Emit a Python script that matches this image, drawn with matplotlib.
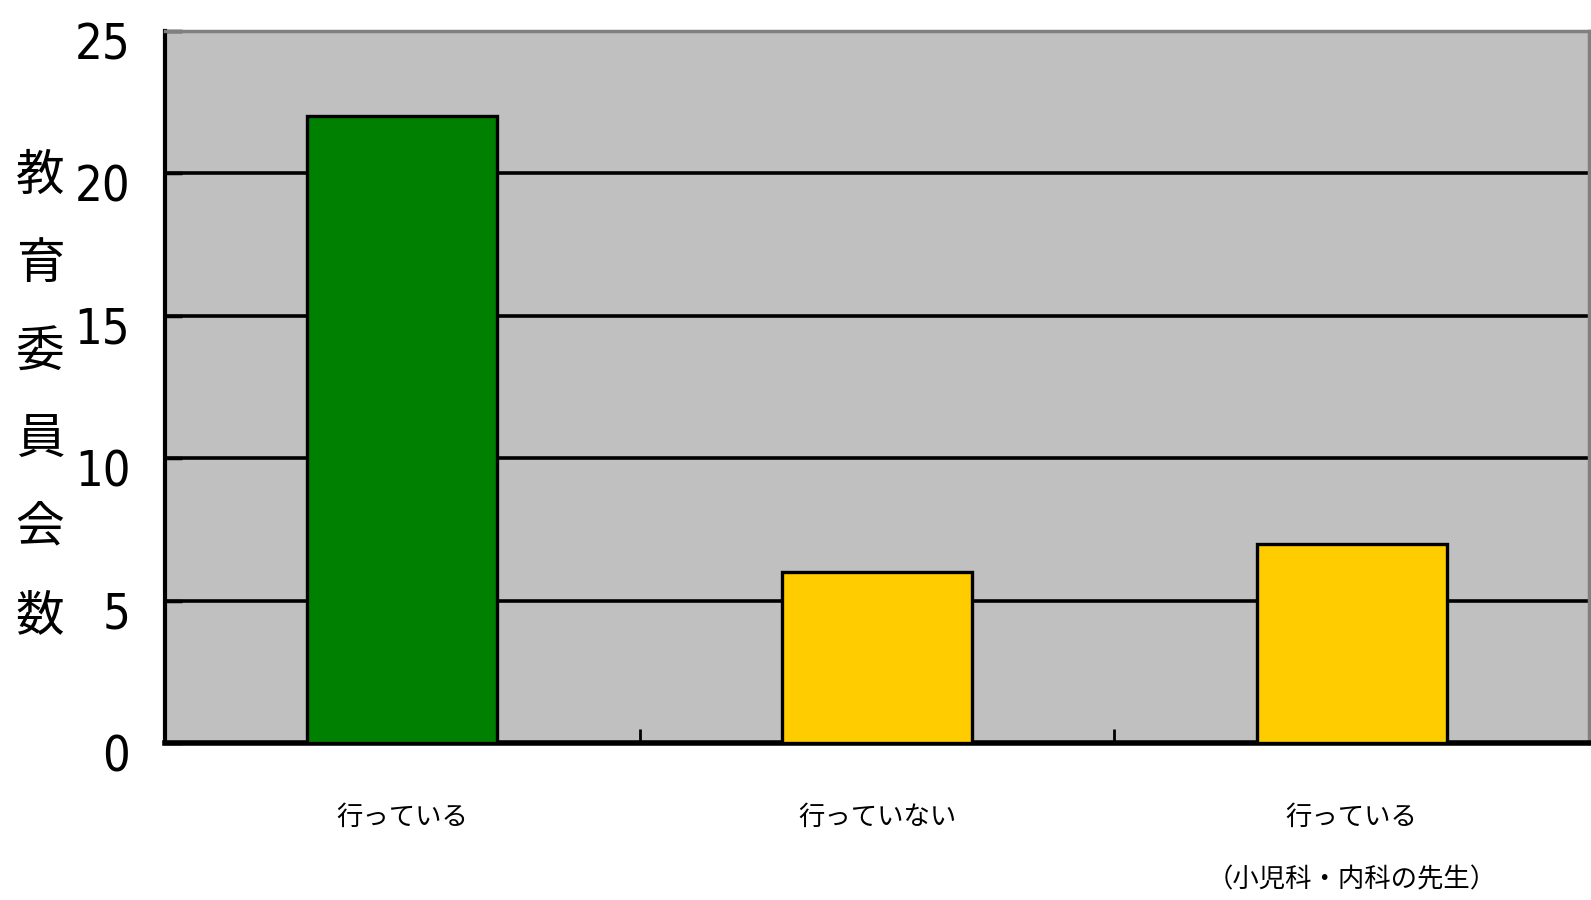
import matplotlib
matplotlib.use("Agg")
import matplotlib.pyplot as plt
import matplotlib.transforms as mtransforms

categories = ["行っている", "行っていない", "行っている\n\n（小児科・内科の先生）"]
values = [22, 6, 7]
colors = ["#008000", "#FFCC00", "#FFCC00"]
yticks = [0, 5, 10, 15, 20, 25]
ylabel = "教育委員会数"

cjk = ["Noto Sans CJK JP", "DejaVu Sans"]
plt.rcParams['font.family'] = cjk

fig = plt.figure(figsize=(15.91, 9.0), dpi=100)
ax = fig.add_axes([165/1591, 1 - 743/900, (1589-165)/1591, (743-31)/900])
ax.set_facecolor("#C0C0C0")

x = list(range(len(values)))
ax.bar(x, values, width=0.4, color=colors, edgecolor="black", linewidth=2.4, zorder=3)

ax.set_xlim(-0.5, 2.5)
ax.set_ylim(0, 25)
ax.set_yticks(yticks)
ax.yaxis.grid(True, color="black", linewidth=2.6)
ax.set_axisbelow(True)

ax.tick_params(axis='y', direction='in', length=12, width=2.5, pad=25)
ax.set_yticklabels([str(v) for v in yticks], fontsize=35, family=["DejaVu Sans"],
                   fontstretch="condensed")

ax.set_xticks([0.5, 1.5])
ax.set_xticklabels([])
ax.tick_params(axis='x', direction='in', length=10, width=2, color="black")
ax.set_xticks(x, minor=True)
ax.set_xticklabels(categories, minor=True, fontsize=19, linespacing=1.2)
ax.tick_params(axis='x', which='minor', length=0, pad=44)

offset = mtransforms.ScaledTranslation(0, -9/100, fig.dpi_scale_trans)
for lab in ax.get_yticklabels():
    lab.set_transform(lab.get_transform() + offset)

for side in ["top", "right"]:
    ax.spines[side].set_color("#808080")
    ax.spines[side].set_linewidth(2.5)
ax.spines["left"].set_color("black")
ax.spines["left"].set_linewidth(3)
ax.spines["bottom"].set_color("black")
ax.spines["bottom"].set_linewidth(4)

fig.text(40/1591, 1 - 396/900, "\n".join(ylabel), fontsize=35, ha="center", va="center",
         linespacing=2.0)

fig.savefig("out.png", dpi=100)
